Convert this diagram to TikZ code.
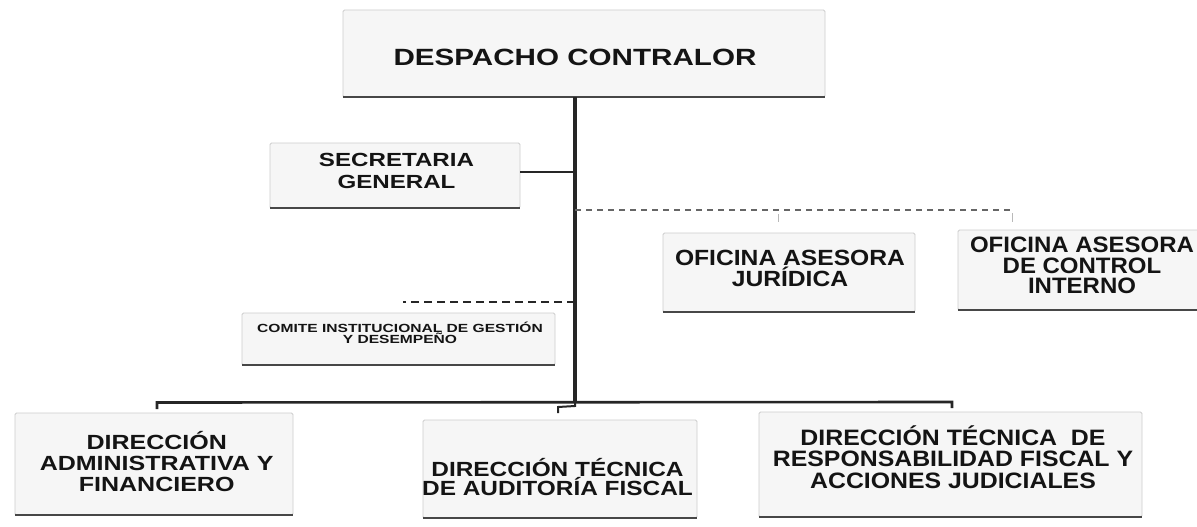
\documentclass[tikz,border=0pt]{standalone}
\usepackage{fontspec}
\setmainfont{Liberation Sans}
\usepackage{graphicx}
\newcommand\orgstack[1]{\vbox{\lineskiplimit=-100pt\halign{\hfil##\hfil\cr#1\crcr}}}
\newcommand\orgtext[4]{{\fontsize{#2}{#3}\selectfont\bfseries\scalebox{#1}[1]{\orgstack{#4}}}}
\begin{document}
\begin{tikzpicture}[x=1pt,y=-1pt,
  orgbox/.style={draw=gray!40, line width=0.8pt, fill=gray!7, inner sep=0pt, rounded corners=1.5pt},
  orgtxt/.style={inner sep=0pt, anchor=base, text=black!92},
  trunkline/.style={line width=3.4pt, draw=black!85},
  conn/.style={line width=2.6pt, draw=black!85},
  dashR/.style={line width=1.1pt, draw=black!60, dash pattern=on 6pt off 5pt},
  dashL/.style={line width=1.6pt, draw=black!85, dash pattern=on 8pt off 5pt},
  shadowline/.style={line width=2pt, draw=black!72},
  faint/.style={line width=0.6pt, draw=gray!55}]
\useasboundingbox (0,0) rectangle (1197,527);

% boxes
\node[orgbox, minimum width=482pt, minimum height=87pt]  (desp) at (584,53.5) {};
\node[orgbox, minimum width=250pt, minimum height=65pt]  (sec)  at (395,175.5) {};
\node[orgbox, minimum width=252pt, minimum height=79pt]  (jur)  at (789,272.5) {};
\node[orgbox, minimum width=252pt, minimum height=80pt]  (ctrl) at (1084,270) {};
\node[orgbox, minimum width=313pt, minimum height=52pt]  (com)  at (398.5,339) {};
\node[orgbox, minimum width=278pt, minimum height=102pt] (adm)  at (154,464) {};
\node[orgbox, minimum width=274pt, minimum height=98pt]  (aud)  at (560,469) {};
\node[orgbox, minimum width=383pt, minimum height=105pt] (resp) at (950.5,464.5) {};

\foreach \n in {desp,sec,jur,ctrl,com,adm,aud,resp}
  \draw[shadowline] (\n.south west) -- (\n.south east);

% texts
\node[orgtxt] (desp-t) at (575,66)    {\orgtext{1.26}{23.5}{21}{DESPACHO CONTRALOR}};
\node[orgtxt] (sec-t)  at (396.5,188) {\orgtext{1.27}{19}{21.5}{SECRETARIA\cr GENERAL}};
\node[orgtxt] (jur-t)  at (790,286)   {\orgtext{1.12}{22}{20.5}{OFICINA ASESORA\cr JURÍDICA}};
\node[orgtxt] (ctrl-t) at (1082,293.3){\orgtext{1.076}{22.3}{20.3}{OFICINA ASESORA\cr DE CONTROL\cr INTERNO}};
\node[orgtxt] (com-t)  at (400,343.5) {\orgtext{1.32}{11.8}{11}{COMITE INSTITUCIONAL DE GESTIÓN\cr Y DESEMPEÑO}};
\node[orgtxt] (adm-t)  at (156.7,491.7){\orgtext{1.22}{20.5}{21}{DIRECCIÓN\cr ADMINISTRATIVA Y\cr FINANCIERO}};
\node[orgtxt] (aud-t)  at (557.5,495) {\orgtext{1.19}{20.5}{19}{DIRECCIÓN TÉCNICA\cr DE AUDITORÍA FISCAL}};
\node[orgtxt] (resp-t) at (953,488.3) {\orgtext{1.114}{22.3}{21.5}{DIRECCIÓN TÉCNICA~~DE\cr RESPONSABILIDAD FISCAL Y\cr ACCIONES JUDICIALES}};

% coordinates
\coordinate (j)    at (575,402);
\coordinate (secR) at (575,172);
\coordinate (dR0)  at (575,210);
\coordinate (dR1)  at (1012,210);
\coordinate (dL0)  at (575,302);
\coordinate (dL1)  at (403,302);
\coordinate (bL)   at (157,402.5);
\coordinate (bR)   at (952,402);
\coordinate (hL)   at (157,409);
\coordinate (hR)   at (952,408);
\coordinate (s1)   at (575,406);
\coordinate (s2)   at (558,407);
\coordinate (s3)   at (558,413);
\coordinate (tk1a) at (778,214);
\coordinate (tk1b) at (778,222);
\coordinate (tk2a) at (1012,213);
\coordinate (tk2b) at (1012,222);

% connectors
\draw[trunkline] (desp.south -| j) -- (j);
\draw[conn] (sec.east |- secR) -- (secR);
\draw[dashR] (dR0) -- (dR1);
\draw[faint] (tk1a) -- (tk1b);
\draw[faint] (tk2a) -- (tk2b);
\draw[dashL] (dL0) -- (dL1);
\draw[conn] (hL) -- (bL) -- (bR) -- (hR);
\draw[line width=2pt, draw=black!85] (j) -- (s1) -- (s2) -- (s3);
\end{tikzpicture}
\end{document}
